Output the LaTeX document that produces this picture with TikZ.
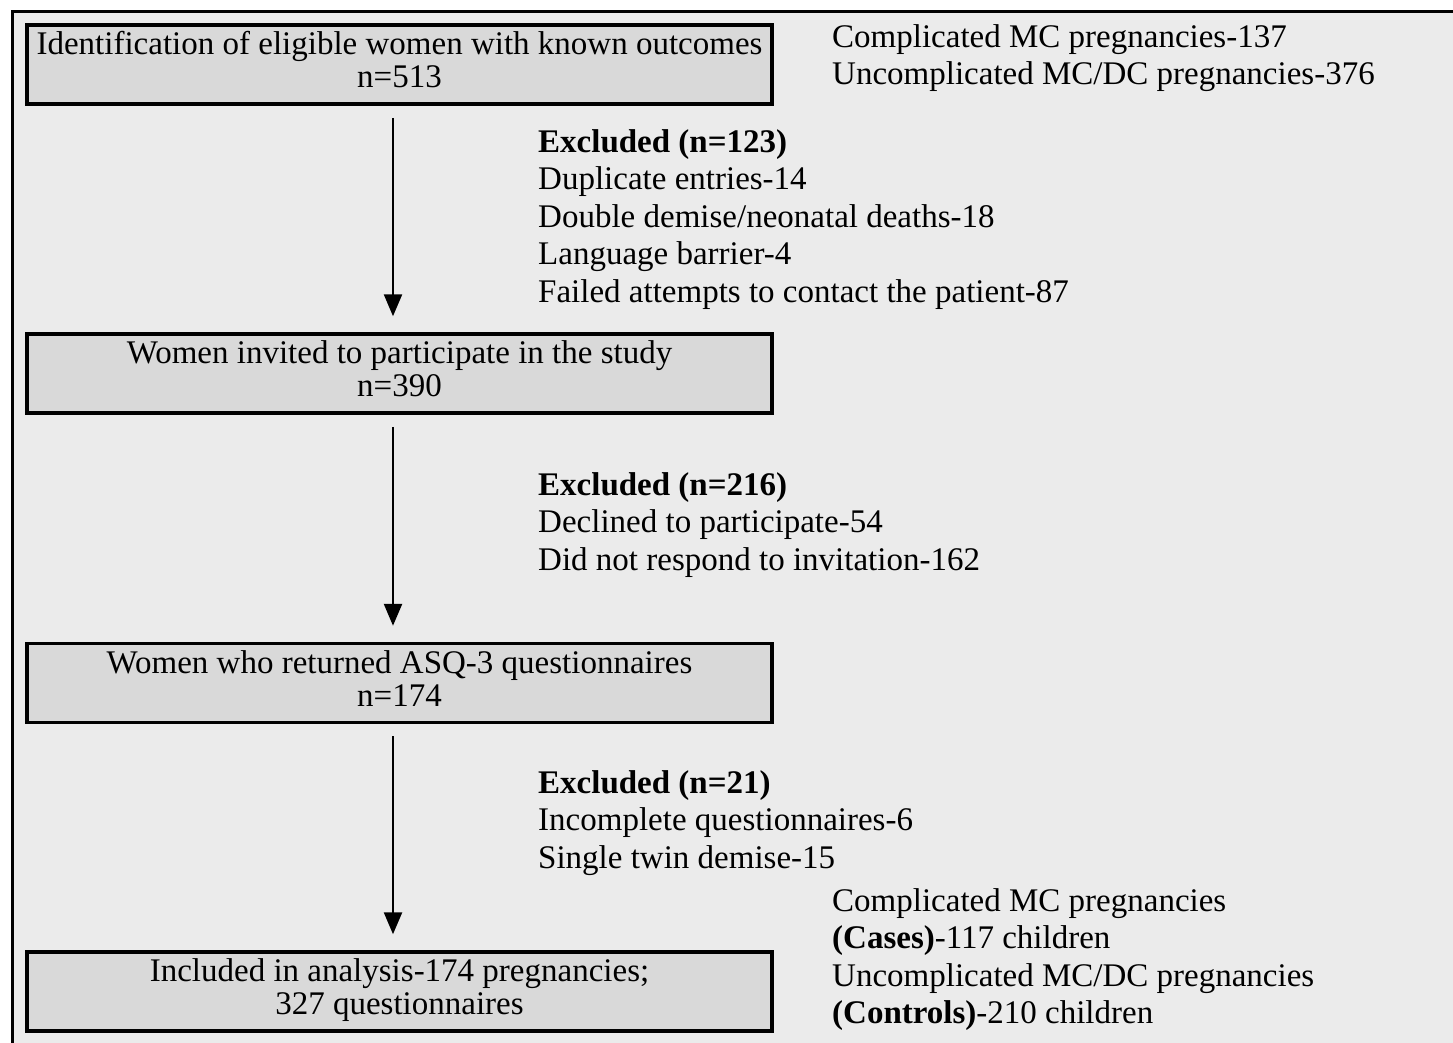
\documentclass[tikz,border=0pt]{standalone}
\usepackage{fontspec}
\setmainfont{Liberation Serif}
\usetikzlibrary{arrows.meta}
\definecolor{bg}{HTML}{EBEBEB}
\definecolor{boxfill}{HTML}{D9D9D9}
\newcommand{\boxtext}[2]{\raisebox{-3pt}{\fontsize{33}{33}\selectfont\begin{tabular}{@{}c@{}}#1\\#2\end{tabular}}}
\begin{document}
\begin{tikzpicture}[x=1pt,y=-1pt,
  box/.style={draw=black, line width=3.5pt, fill=boxfill, minimum width=745pt, minimum height=79pt, inner sep=0pt},
  side/.style={anchor=north west, align=left, font=\fontsize{33}{37.6}\selectfont, inner sep=0pt},
  arr/.style={line width=2.5pt, -{Triangle[length=22pt,width=18pt]}}]
\useasboundingbox (0,0) rectangle (1453,1042);
\begin{scope}
\clip (0,0) rectangle (1453,1042);
\draw[line width=3pt, fill=bg] (12.5,11.5) rectangle (1480,1070);
\end{scope}

\node[box] (b1) at (399.5,64.5) {\boxtext{Identification of eligible women with known outcomes}{n=513}};
\node[box] (b2) at (399.5,373.5) {\boxtext{Women invited to participate in the study}{n=390}};
\node[box] (b3) at (399.5,683) {\boxtext{Women who returned ASQ-3 questionnaires}{n=174}};
\node[box] (b4) at (399.5,991.5) {\boxtext{Included in analysis-174 pregnancies;}{327 questionnaires}};

\draw[arr] ([xshift=-6.5pt,yshift=-12pt]b1.south) -- ([xshift=-6.5pt,yshift=16pt]b2.north);
\draw[arr] ([xshift=-6.5pt,yshift=-12pt]b2.south) -- ([xshift=-6.5pt,yshift=16pt]b3.north);
\draw[arr] ([xshift=-6.5pt,yshift=-12pt]b3.south) -- ([xshift=-6.5pt,yshift=16pt]b4.north);

\node[side] (t1) at (832,24) {Complicated MC pregnancies-137\\Uncomplicated MC/DC pregnancies-376};
\node[side] (e1) at (538,129) {\textbf{Excluded (n=123)}\\Duplicate entries-14\\Double demise/neonatal deaths-18\\Language barrier-4\\Failed attempts to contact the patient-87};
\node[side] (e2) at (538,472) {\textbf{Excluded (n=216)}\\Declined to participate-54\\Did not respond to invitation-162};
\node[side] (e3) at (538,770) {\textbf{Excluded (n=21)}\\Incomplete questionnaires-6\\Single twin demise-15};
\node[side] (t4) at (832,888) {Complicated MC pregnancies\\\textbf{(Cases)}-117 children\\Uncomplicated MC/DC pregnancies\\\textbf{(Controls)}-210 children};
\end{tikzpicture}
\end{document}
